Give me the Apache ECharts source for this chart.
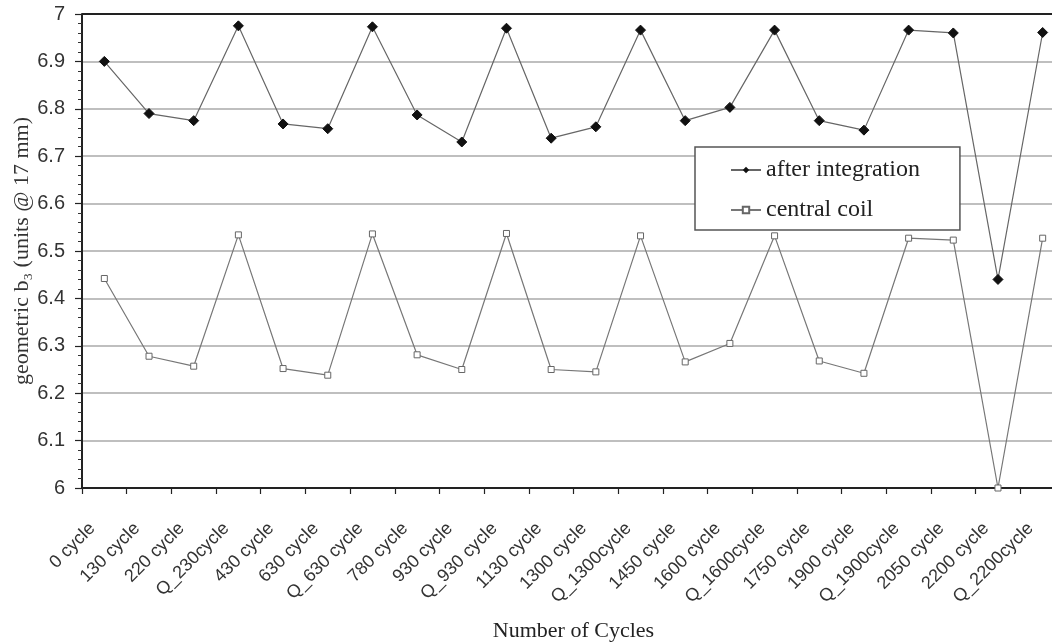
<!DOCTYPE html>
<html>
<head>
<meta charset="utf-8">
<script src="https://cdn.jsdelivr.net/npm/echarts@6/dist/echarts.min.js"></script>
<style>
  html, body { margin: 0; padding: 0; background: #fff; }
  #chart { width: 1052px; height: 643px; }
</style>
</head>
<body>
<div id="chart"></div>
<script>
// Measurement stages (category axis)
const cycles = [
  '0 cycle', '130 cycle', '220 cycle', 'Q_230cycle', '430 cycle', '630 cycle',
  'Q_630 cycle', '780 cycle', '930 cycle', 'Q_930 cycle', '1130 cycle', '1300 cycle',
  'Q_1300cycle', '1450 cycle', '1600 cycle', 'Q_1600cycle', '1750 cycle', '1900 cycle',
  'Q_1900cycle', '2050 cycle', '2200 cycle', 'Q_2200cycle'
];

// geometric b3 after integration
const afterIntegration = [
  6.90, 6.79, 6.775, 6.975, 6.768, 6.758, 6.973, 6.787, 6.73, 6.97, 6.738,
  6.762, 6.966, 6.775, 6.803, 6.966, 6.775, 6.755, 6.966, 6.96, 6.44, 6.961
];

// geometric b3 from the central coil
const centralCoil = [
  6.442, 6.278, 6.257, 6.534, 6.252, 6.238, 6.536, 6.281, 6.25, 6.537, 6.25,
  6.245, 6.532, 6.266, 6.305, 6.532, 6.268, 6.242, 6.527, 6.523, 6.0, 6.527
];

const yMin = 6, yMax = 7, yStep = 0.1;

const chart = echarts.init(document.getElementById('chart'));
const serif = 'Liberation Serif';
const sans = 'Liberation Sans';

chart.setOption({
  animation: false,
  backgroundColor: '#fff',
  // plot area runs past the right edge of the canvas
  grid: { left: 82, top: 14, width: 983, height: 474, show: false, outerBoundsMode: 'none', containLabel: false },
  legend: {
    orient: 'vertical',
    left: 695, top: 147,
    padding: [11, 40, 8, 35],
    itemGap: 16,
    itemWidth: 30, itemHeight: 8,
    backgroundColor: '#fff',
    borderColor: '#555', borderWidth: 1.5,
    textStyle: { fontFamily: serif, fontSize: 24, color: '#222' },
    data: ['after integration', 'central coil']
  },
  xAxis: {
    type: 'category',
    data: cycles,
    boundaryGap: true,
    name: 'Number of Cycles',
    nameLocation: 'middle',
    nameGap: 132,
    nameMoveOverlap: false,
    nameTextStyle: { fontFamily: serif, fontSize: 22, color: '#222' },
    axisLine: { lineStyle: { color: '#222', width: 2 } },
    axisTick: { show: true, inside: false, length: 6, lineStyle: { color: '#222', width: 1.2 } },
    axisLabel: { rotate: 45, interval: 0, margin: 13, verticalAlign: 'top',
      padding: [0, 26, 0, 0],
      fontFamily: sans, fontSize: 18, color: '#333' },
    splitLine: { show: false }
  },
  yAxis: [{
    type: 'value',
    min: yMin, max: yMax, interval: yStep,
    name: 'geometric b\u2083 (units @ 17 mm)',
    nameLocation: 'middle',
    nameGap: 49,
    nameMoveOverlap: false,
    nameTextStyle: { fontFamily: serif, fontSize: 22, color: '#333' },
    axisLine: { show: true, lineStyle: { color: '#222', width: 2 } },
    axisTick: { show: true, length: 7, lineStyle: { color: '#222', width: 1.2 } },
    minorTick: { show: true, splitNumber: 5, length: 4, lineStyle: { color: '#333', width: 1 } },
    axisLabel: { fontFamily: sans, fontSize: 20, color: '#333', margin: 17,
      formatter: v => String(Math.round(v * 10) / 10) },
    splitLine: { show: true, lineStyle: { color: '#aaa', width: 1.5 } }
  }],
  graphic: [{
    type: 'line',
    shape: { x1: 82, y1: 14, x2: 1052, y2: 14 },
    style: { stroke: '#222', lineWidth: 2 },
    z: 10
  }],
  series: [{
    name: 'after integration',
    type: 'line',
    data: afterIntegration,
    symbol: 'diamond',
    symbolSize: 10,
    itemStyle: { color: '#111', borderColor: '#111' },
    lineStyle: { color: '#666', width: 1.2 },
    z: 3
  }, {
    name: 'central coil',
    type: 'line',
    data: centralCoil,
    symbol: 'rect',
    symbolSize: 6,
    itemStyle: { color: '#fff', borderColor: '#666', borderWidth: 1 },
    lineStyle: { color: '#777', width: 1.2 },
    z: 2
  }]
});
</script>
</body>
</html>
